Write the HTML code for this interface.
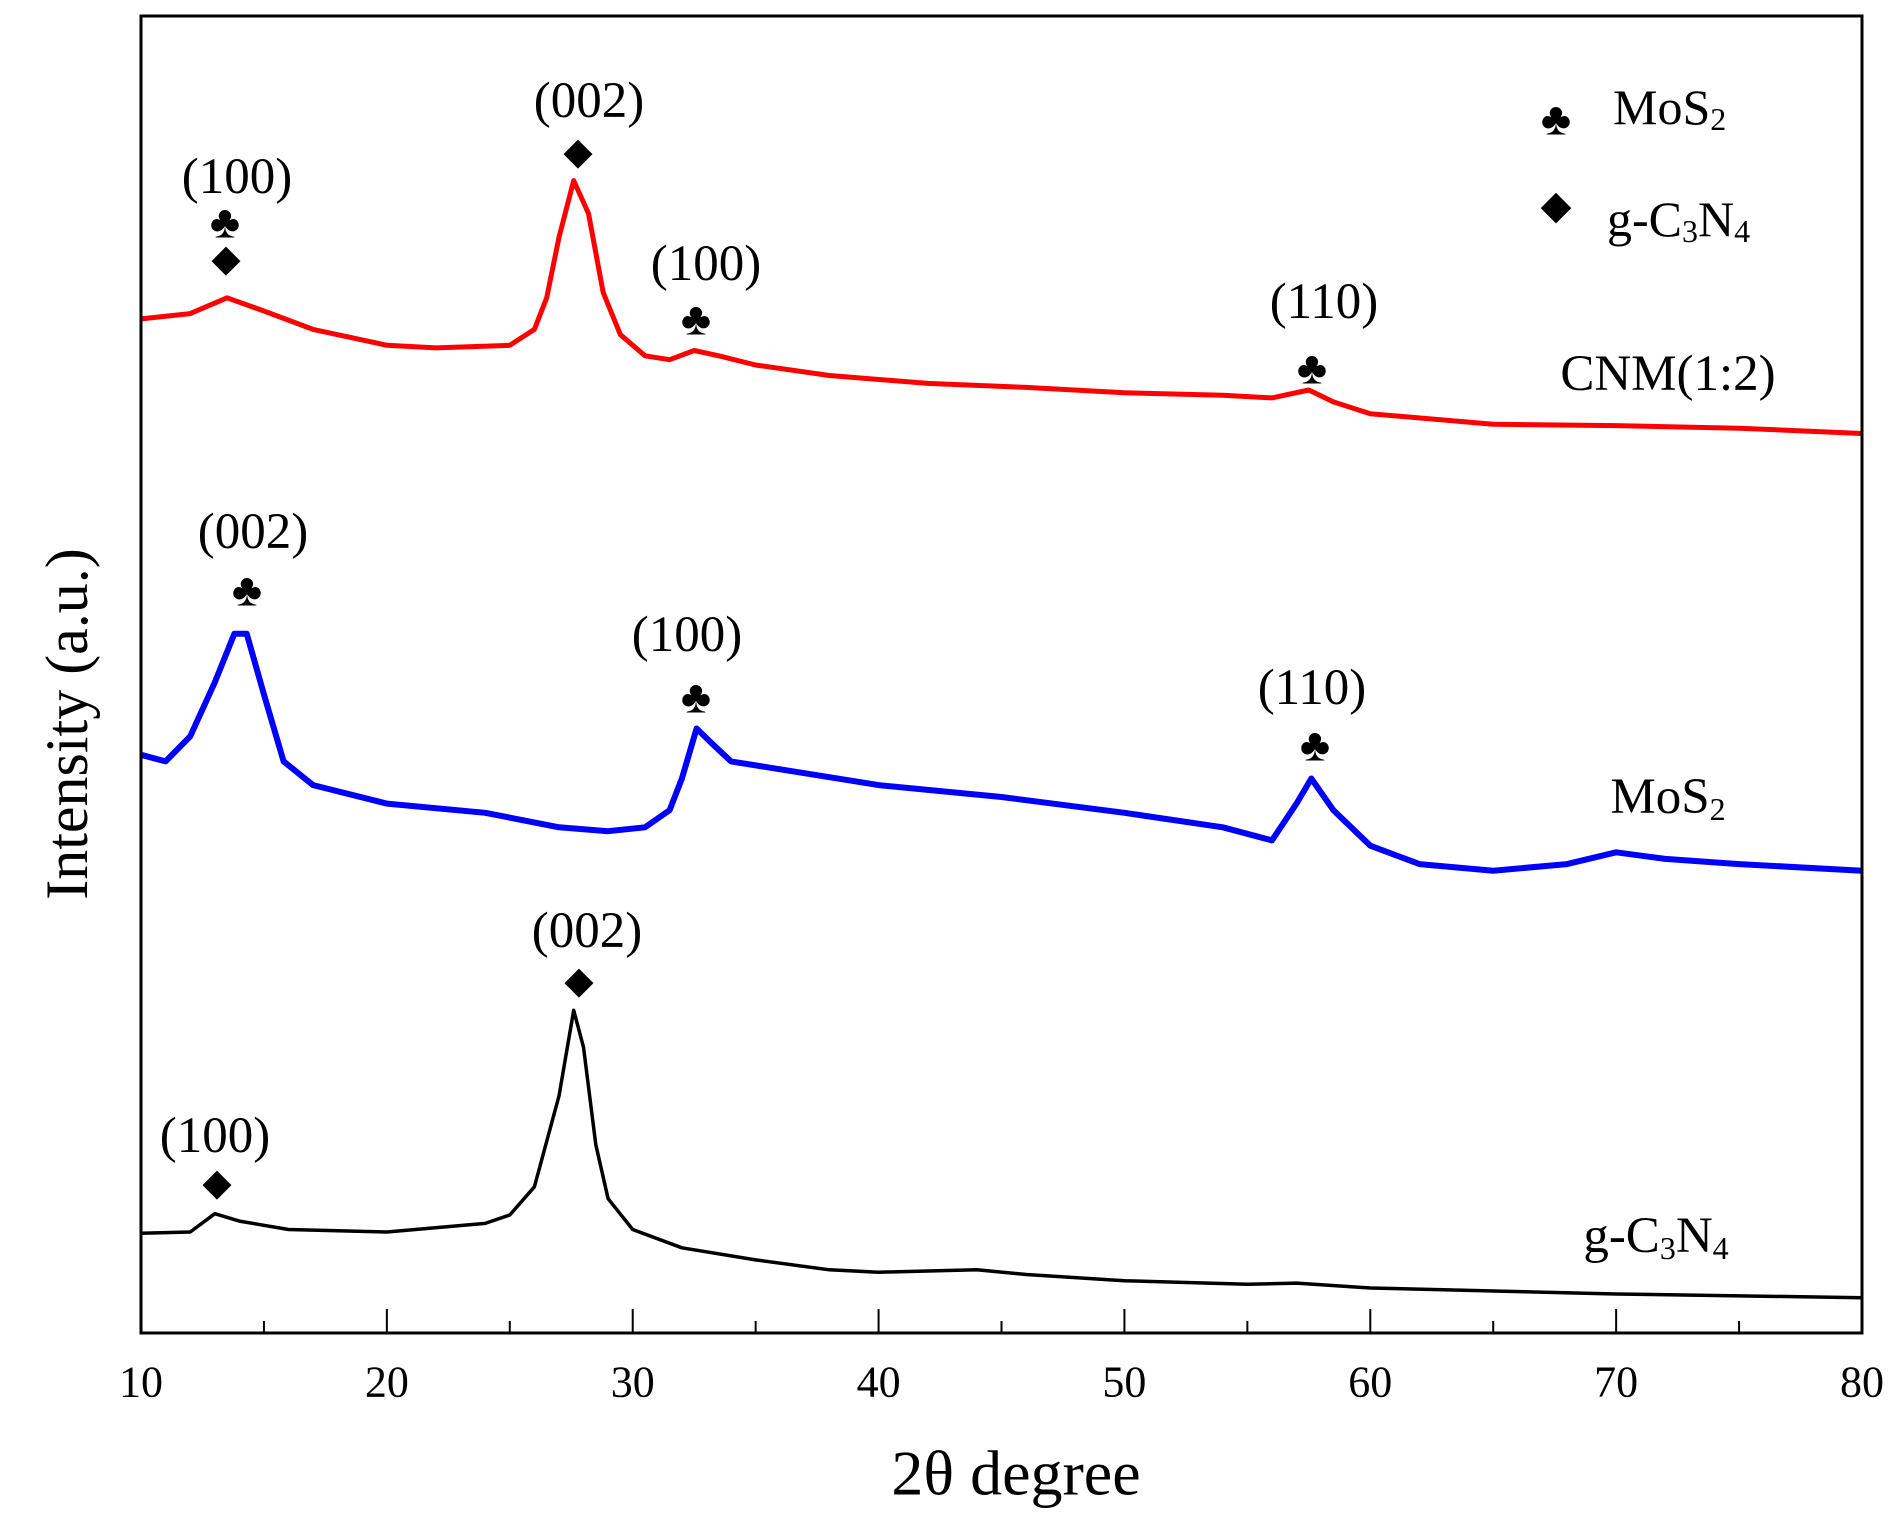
<!DOCTYPE html>
<html><head><meta charset="utf-8"><style>
html,body{margin:0;padding:0;background:#fff;}
svg text{font-family:"Liberation Serif","DejaVu Serif",serif;fill:#000;}
</style></head><body>
<svg id="chart" width="1899" height="1526" viewBox="0 0 1899 1526" xmlns="http://www.w3.org/2000/svg">
<rect x="0" y="0" width="1899" height="1526" fill="#fff"/>
<g id="plot"></g>
<rect x="141" y="16" width="1721" height="1317" fill="none" stroke="#000" stroke-width="3"/>
<g id="xticks"></g>
<text x="1016" y="1473" font-size="64" text-anchor="middle" dominant-baseline="central">2θ degree</text>
<text x="67" y="724" font-size="60" text-anchor="middle" dominant-baseline="central" transform="rotate(-90 67 724)">Intensity (a.u.)</text>
<g>
<text x="1556" y="119" font-size="46" text-anchor="middle" dominant-baseline="central">♣</text>
<text x="1613" y="107" font-size="50" dominant-baseline="central">MoS<tspan font-size="32" dy="12">2</tspan></text>
<text x="1556" y="205" font-size="40" text-anchor="middle" dominant-baseline="central">◆</text>
<text x="1607" y="219" font-size="50" dominant-baseline="central">g-C<tspan font-size="32" dy="12">3</tspan><tspan dy="-12">N</tspan><tspan font-size="32" dy="12">4</tspan></text>
</g>
<g font-size="51">
<text x="237" y="177" text-anchor="middle" dominant-baseline="central">(100)</text>
<text x="225" y="222" font-size="46" text-anchor="middle" dominant-baseline="central">♣</text>
<text x="226" y="259" font-size="38" text-anchor="middle" dominant-baseline="central">◆</text>
<text x="589" y="101" text-anchor="middle" dominant-baseline="central">(002)</text>
<text x="578" y="152" font-size="38" text-anchor="middle" dominant-baseline="central">◆</text>
<text x="706" y="264" text-anchor="middle" dominant-baseline="central">(100)</text>
<text x="696" y="319" font-size="46" text-anchor="middle" dominant-baseline="central">♣</text>
<text x="1324" y="302" text-anchor="middle" dominant-baseline="central">(110)</text>
<text x="1312" y="368" font-size="46" text-anchor="middle" dominant-baseline="central">♣</text>
<text x="1668" y="374" text-anchor="middle" dominant-baseline="central">CNM(1:2)</text>
<text x="253" y="532" text-anchor="middle" dominant-baseline="central">(002)</text>
<text x="247" y="590" font-size="46" text-anchor="middle" dominant-baseline="central">♣</text>
<text x="687" y="635" text-anchor="middle" dominant-baseline="central">(100)</text>
<text x="696" y="697" font-size="46" text-anchor="middle" dominant-baseline="central">♣</text>
<text x="1312" y="688" text-anchor="middle" dominant-baseline="central">(110)</text>
<text x="1315" y="745" font-size="46" text-anchor="middle" dominant-baseline="central">♣</text>
<text x="1668" y="797" text-anchor="middle" dominant-baseline="central">MoS<tspan font-size="32" dy="12">2</tspan></text>
<text x="587" y="931" text-anchor="middle" dominant-baseline="central">(002)</text>
<text x="579" y="981" font-size="38" text-anchor="middle" dominant-baseline="central">◆</text>
<text x="215" y="1136" text-anchor="middle" dominant-baseline="central">(100)</text>
<text x="217" y="1183" font-size="38" text-anchor="middle" dominant-baseline="central">◆</text>
<text x="1656" y="1236" text-anchor="middle" dominant-baseline="central">g-C<tspan font-size="32" dy="12">3</tspan><tspan dy="-12">N</tspan><tspan font-size="32" dy="12">4</tspan></text>
</g>
</svg>
<script>
const xTicks = [10,20,30,40,50,60,70,80];
const gcnX = [10,12,13,14,16,20,24,25,26,27,27.6,28,28.5,29,30,32,35,38,40,44,46,50,55,57,60,70,80];
const gcnY = [75.8,76.7,90.6,85,78.6,76.7,83.2,89.6,111,180,245,217,143,102,78.6,64.7,55.5,48,46.2,48,44.4,39.7,37,37.9,34.2,29.6,26.8];
const cnmX = [10,12,13.5,15,17,20,22,25,26,26.5,27,27.6,28.2,28.8,29.5,30.5,31.5,32.5,33.5,35,38,42,46,50,54,56,57.5,58.5,60,65,70,75,80];
const cnmY = [770,774,786,776,762,750,748,750,762,786,832,875,850,790,758,742,739,746,742,735,727,721,718,714,712,710,716,707,698,690,689,687,683];
const mosX = [10,11,12,13,13.8,14.3,15,15.8,17,20,24,27,29,30.5,31.5,32,32.6,33.2,34,36,40,45,50,54,56,57,57.6,58.5,60,62,65,68,70,72,75,80];
const mosY = [439,434,453,494,531,531,485,434,416,402,395,384,381,384,397,421,459,448,434,428,416,407,395,384,374,402,421,397,370,356,351,356,365,360,356,351];

const NS = "http://www.w3.org/2000/svg";
const L=141,R=1862,T=16,B=1333;
function xs(v){return L+(v-10)/(80-10)*(R-L);}
function ys(v){return B-v/1000*(B-T);}
const plot=document.getElementById('plot');
function drawLine(xa,ya,color,name,w){
  const p=document.createElementNS(NS,'path');
  let d='';
  for(let i=0;i<xa.length;i++){d+=(i?'L':'M')+xs(xa[i]).toFixed(1)+','+ys(ya[i]).toFixed(1);}
  p.setAttribute('d',d);
  p.setAttribute('fill','none');
  p.setAttribute('stroke',color);
  p.setAttribute('stroke-width',w);
  p.setAttribute('stroke-linejoin','round');
  
  
  plot.appendChild(p);
}
drawLine(cnmX,cnmY,'#ff0000','cnm-series-line',5);
drawLine(mosX,mosY,'#0000ff','mos2-series-line',6);
drawLine(gcnX,gcnY,'#000000','gc3n4-series-line',3.5);

const xt=document.getElementById('xticks');
for(let i=0;i<xTicks.length;i++){
  const v=xTicks[i];
  const t=document.createElementNS(NS,'line');
  t.setAttribute('x1',xs(v));t.setAttribute('x2',xs(v));
  t.setAttribute('y1',B);t.setAttribute('y2',B-24);
  t.setAttribute('stroke','#000');t.setAttribute('stroke-width','2');
  
  
  xt.appendChild(t);
  if(i<xTicks.length-1){
    const m=document.createElementNS(NS,'line');
    const mv=v+5;
    m.setAttribute('x1',xs(mv));m.setAttribute('x2',xs(mv));
    m.setAttribute('y1',B);m.setAttribute('y2',B-12);
    m.setAttribute('stroke','#000');m.setAttribute('stroke-width','2');
    
    
    xt.appendChild(m);
  }
  const lb=document.createElementNS(NS,'text');
  lb.setAttribute('x',xs(v));lb.setAttribute('y',1382);
  lb.setAttribute('font-size','44');
  lb.setAttribute('text-anchor','middle');
  lb.setAttribute('dominant-baseline','central');
  
  
  lb.textContent=v;
  xt.appendChild(lb);
}
</script>
</body></html>
